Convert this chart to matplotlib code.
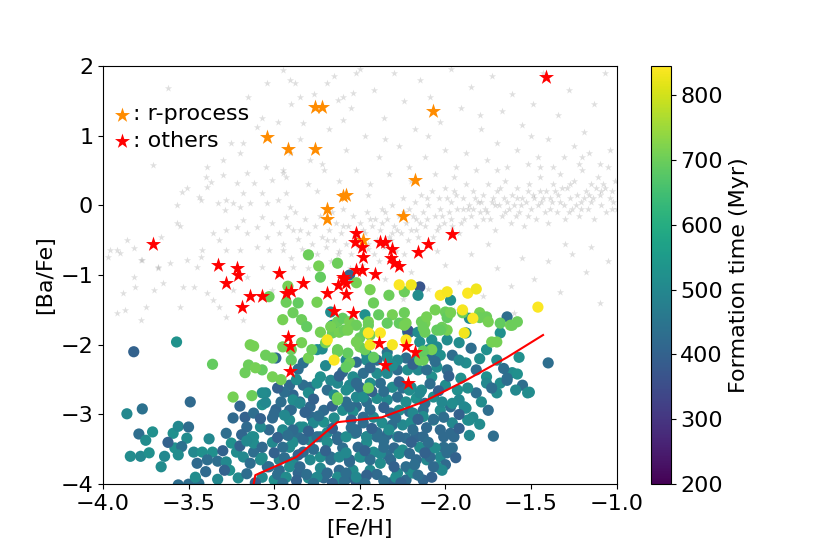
import numpy as np
import matplotlib
matplotlib.use("Agg")
import matplotlib.pyplot as plt
from matplotlib.colors import Normalize

# background sample (grey stars): ([Fe/H], [Ba/Fe])
bg_stars = [
    (-2.95, -0.55), (-2.92, -0.3), (-2.9, -0.75), (-2.88, -0.1), (-2.86, -0.48), (-2.84, -0.62), (-2.82, -0.2), (-2.8, -0.9), (-2.8, -0.4),
    (-2.78, -0.55), (-2.76, -0.3), (-2.75, -0.7), (-2.73, -0.15), (-2.72, -0.45), (-2.7, -0.6), (-2.68, -0.35), (-2.67, -0.8), (-2.65, -0.5),
    (-2.64, -0.25), (-2.62, -0.65), (-2.61, -0.4), (-2.6, -0.05), (-2.58, -0.55), (-2.57, -0.3), (-2.55, -0.7), (-2.54, -0.15), (-2.53, -0.45),
    (-2.51, -0.6), (-2.5, -0.25), (-2.49, -0.85), (-2.47, -0.4), (-2.46, -0.1), (-2.45, -0.55), (-2.43, -0.3), (-2.42, -0.7), (-2.41, -0.2),
    (-2.4, -0.5), (-2.38, -0.35), (-2.37, -0.05), (-2.36, -0.6), (-2.34, -0.2), (-2.33, -0.45), (-2.31, 0.0), (-2.3, -0.3), (-2.29, -0.65),
    (-2.27, -0.15), (-2.26, -0.4), (-2.25, 0.1), (-2.23, -0.25), (-2.22, -0.5), (-2.21, -0.05), (-2.2, -0.35), (-2.18, 0.05), (-2.17, -0.2),
    (-2.16, -0.45), (-2.14, 0.15), (-2.13, -0.1), (-2.12, -0.3), (-2.1, 0.0), (-2.09, -0.55), (-2.08, 0.2), (-2.06, -0.15), (-2.05, -0.35),
    (-2.04, 0.1), (-2.03, -0.05), (-2.01, -0.25), (-2.0, 0.25), (-1.98, -0.1), (-1.97, 0.05), (-1.96, -0.3), (-1.94, 0.15), (-1.93, -0.05),
    (-1.92, -0.4), (-1.9, 0.1), (-1.89, -0.2), (-1.88, 0.3), (-1.86, 0.0), (-1.85, -0.15), (-1.84, 0.2), (-1.82, -0.3), (-1.81, 0.05),
    (-1.8, -0.1), (-1.78, 0.15), (-1.77, -0.05), (-1.75, 0.3), (-1.74, -0.2), (-1.73, 0.05), (-1.71, -0.35), (-1.7, 0.2), (-1.69, 0.0),
    (-1.67, -0.15), (-1.66, 0.1), (-1.65, 0.35), (-1.63, -0.05), (-1.62, -0.25), (-1.61, 0.15), (-1.6, 0.0), (-1.58, 0.25), (-1.57, -0.1),
    (-1.55, 0.1), (-1.54, -0.3), (-1.53, 0.05), (-1.51, 0.3), (-1.5, -0.05), (-1.49, 0.15), (-1.47, -0.2), (-1.46, 0.0), (-1.45, 0.4),
    (-1.43, 0.1), (-1.42, -0.1), (-1.41, 0.2), (-1.4, -0.25), (-1.38, 0.05), (-1.37, 0.3), (-1.35, -0.1), (-1.34, 0.15), (-1.33, 0.45),
    (-1.31, 0.0), (-1.3, -0.2), (-1.29, 0.25), (-1.27, 0.1), (-1.26, -0.05), (-1.25, 0.35), (-1.23, 0.15), (-1.22, -0.15), (-1.21, 0.05),
    (-1.2, 0.5), (-1.18, 0.2), (-1.17, -0.05), (-1.15, 0.3), (-1.14, 0.1), (-1.13, -0.2), (-1.11, 0.4), (-1.1, 0.15), (-1.09, 0.0),
    (-1.07, 0.25), (-1.06, -0.1), (-1.05, 0.55), (-1.03, 0.2), (-1.02, 0.05), (-1.01, 0.35), (-1.0, -0.05),
    (-2.85, -0.35), (-2.74, -0.85), (-2.66, -0.1), (-2.56, -0.9), (-2.48, -0.35), (-2.39, -0.8), (-2.32, -0.5), (-2.24, -0.7), (-2.15, -0.25),
    (-2.07, -0.45), (-1.99, 0.1), (-1.91, -0.25), (-1.83, 0.1), (-1.76, -0.1), (-1.68, 0.25), (-1.59, -0.15), (-1.52, 0.2), (-1.44, 0.05),
    (-1.36, 0.2), (-1.28, -0.1), (-1.19, 0.1), (-1.12, 0.25), (-1.04, 0.1), (-2.44, -0.2), (-2.35, -0.1), (-2.28, -0.35), (-2.19, -0.15),
    (-2.11, 0.1), (-2.02, -0.15), (-1.95, 0.2), (-1.87, -0.05), (-1.79, 0.05), (-1.72, 0.1), (-1.64, 0.05), (-1.56, 0.0), (-1.48, 0.1),
    (-1.39, 0.1), (-1.32, 0.25), (-1.24, 0.0), (-1.16, 0.15), (-1.08, 0.3),
    (-2.52, -0.45), (-2.45, -0.62), (-2.37, -0.25), (-2.31, -0.4), (-2.24, -0.1), (-2.17, -0.35), (-2.11, -0.2), (-2.04, -0.3), (-1.97, -0.2),
    (-1.9, -0.05), (-1.84, -0.05), (-1.78, -0.2), (-1.71, 0.0), (-1.65, -0.1), (-1.58, 0.1), (-1.52, -0.15), (-1.45, 0.2), (-1.39, -0.05),
    (-1.33, 0.05), (-1.27, 0.3), (-1.21, -0.05), (-1.15, 0.05), (-1.09, 0.2), (-1.03, -0.05), (-2.69, -0.5), (-2.6, -0.3), (-2.63, -0.7),
    (-3.25, 0.9), (-3.15, 1.55), (-3.05, 0.55), (-2.98, 1.2), (-2.93, 0.4), (-2.88, 1.75), (-2.85, 0.95), (-2.8, 0.3), (-2.77, 1.6),
    (-2.72, 0.6), (-2.68, 1.1), (-2.65, 1.85), (-2.62, 0.35), (-2.58, 0.8), (-2.55, 1.4), (-2.52, 0.5), (-2.5, 1.95), (-2.47, 1.0),
    (-2.44, 0.3), (-2.42, 1.65), (-2.39, 0.7), (-2.36, 1.25), (-2.33, 0.45), (-2.3, 1.9), (-2.27, 0.85), (-2.24, 1.5), (-2.21, 0.55),
    (-2.18, 1.1), (-2.15, 1.8), (-2.12, 0.7), (-2.09, 1.55), (-2.06, 0.45), (-2.03, 1.2), (-2.0, 0.8), (-1.97, 1.95), (-1.94, 0.55),
    (-1.91, 1.4), (-1.88, 0.75), (-1.85, 1.7), (-1.82, 0.5), (-1.79, 1.1), (-1.76, 0.65), (-1.73, 1.85), (-1.7, 0.9), (-1.67, 1.35),
    (-1.64, 0.55), (-1.61, 1.6), (-1.58, 0.8), (-1.55, 1.15), (-1.52, 0.6), (-1.49, 1.45), (-1.46, 0.7), (-1.43, 1.9), (-1.4, 0.95),
    (-1.37, 0.55), (-1.34, 1.3), (-1.31, 0.7), (-1.28, 1.65), (-1.25, 0.85), (-1.22, 0.6), (-1.19, 1.05), (-1.16, 0.75), (-1.13, 1.45),
    (-1.1, 0.6), (-1.07, 1.9), (-1.04, 0.8), (-2.6, 1.55), (-2.35, 0.95), (-2.1, 1.0), (-1.8, 1.3), (-1.5, 1.0), (-2.9, 1.45),
    (-2.75, 0.2), (-2.45, 0.15), (-2.2, 0.35), (-1.95, 0.4), (-1.7, 0.5), (-1.45, 0.55), (-1.2, 0.7),
    (-2.35, -1.05), (-2.2, -0.95), (-2.1, -1.2), (-2.0, -0.85), (-1.92, -1.1), (-1.85, -0.7), (-1.78, -1.3), (-1.7, -0.9), (-1.62, -1.15),
    (-1.55, -0.75), (-1.48, -1.05), (-1.4, -0.8), (-1.33, -1.25), (-1.26, -0.7), (-1.18, -0.95), (-1.1, -1.4), (-1.05, -0.8), (-1.95, -1.5),
    (-1.6, -1.55), (-2.25, -1.35), (-1.3, -0.55), (-1.15, -0.6), (-1.75, -0.55), (-2.05, -0.65),
    (-3.97, -0.74), (-3.92, -0.64), (-3.86, -0.5), (-3.82, -0.61), (-3.77, -0.79), (-3.71, 0.58), (-3.66, -0.45), (-3.57, -0.25), (-3.55, -0.3),
    (-3.57, 0.0), (-3.54, 0.19), (-3.51, 0.25), (-3.43, 0.08), (-3.4, 0.41), (-3.37, 0.33), (-3.33, 0.03), (-3.29, -0.07), (-3.24, 0.03),
    (-3.92, -1.54), (-3.87, -1.5), (-3.88, -1.26), (-3.82, -1.03), (-3.81, -1.17), (-3.75, -1.46), (-3.78, -1.64), (-3.7, -1.21), (-3.65, -1.11),
    (-3.61, -0.83), (-3.68, -0.9), (-3.55, -1.46), (-3.53, -1.17), (-3.51, -0.78), (-3.47, -1.17), (-3.45, -0.88), (-3.43, -0.74), (-3.36, -1.36),
    (-3.32, -1.46), (-3.39, -1.26), (-3.24, -1.21), (-3.18, -1.64), (-3.28, -1.6), (-3.36, -0.4), (-3.32, -0.5), (-3.28, -0.35), (-3.22, -0.31),
    (-3.18, -0.21), (-3.16, -0.4), (-3.1, -0.31), (-3.07, -0.17), (-3.04, -0.45), (-3.01, -0.25), (-2.97, -0.4), (-2.93, -0.17), (-2.89, -0.35),
    (-3.1, -0.6), (-3.03, -0.64), (-2.95, -0.64), (-3.2, -0.64), (-3.28, -0.64), (-3.42, -0.64), (-3.07, -0.88), (-3.16, -1.03), (-2.89, -0.88),
    (-3.01, -1.21), (-3.18, 0.18), (-3.12, 0.32), (-3.07, 0.18), (-3.01, 0.36), (-2.95, 0.46), (-3.16, 0.46), (-3.22, 0.32), (-3.3, 0.44),
    (-3.39, 0.26), (-3.44, 0.12), (-3.04, 0.03), (-2.98, 0.08), (-2.93, 0.18), (-2.91, -0.02), (-3.2, -0.02), (-3.28, 0.08), (-3.14, 0.03),
    (-3.62, 1.68), (-3.39, 0.55), (-3.3, 0.65), (-3.2, 0.75), (-3.18, 0.9), (-3.1, 1.13), (-3.07, 1.25), (-3.04, 1.75), (-2.95, 1.94),
    (-2.91, 1.8), (-2.85, 1.56), (-2.83, 1.18), (-2.69, 1.75), (-2.63, 1.51), (-2.6, 1.22), (-2.54, 1.61), (-2.52, 1.9), (-2.91, 0.75),
    (-2.79, 0.65), (-2.71, 0.51), (-2.95, 0.51), (-3.9, -0.68), (-3.78, -0.78), (-3.96, -0.64), (-3.68, -0.88),
]

# simulated stars coloured by formation time: ([Fe/H], [Ba/Fe], t in Myr)
teal_blue = [
    (-3.82, -2.10, 400), (-3.57, -1.96, 530), (-3.49, -2.82, 420), (-3.86, -2.99, 500), (-3.77, -2.92, 440), (-3.79, -3.28, 430),
    (-3.75, -3.37, 510), (-3.71, -3.25, 520), (-3.84, -3.60, 510), (-3.78, -3.60, 500), (-3.73, -3.55, 520), (-3.66, -3.75, 510),
    (-3.59, -3.27, 520), (-3.56, -3.17, 500), (-3.50, -3.18, 430), (-3.51, -3.34, 510), (-3.58, -3.48, 520), (-3.54, -3.46, 440),
    (-3.56, -3.58, 510), (-3.47, -3.54, 500), (-3.42, -3.54, 520), (-3.45, -3.70, 420), (-3.40, -3.82, 420), (-3.33, -3.93, 500),
    (-3.36, -3.54, 520), (-3.33, -3.67, 430), (-3.50, -4.00, 430), (-3.44, -3.99, 440), (-3.56, -4.01, 430),
    (-3.20, -2.88, 410), (-3.24, -3.05, 420), (-3.17, -3.04, 400), (-3.16, -3.18, 420), (-3.19, -3.29, 410), (-3.13, -3.32, 510),
    (-3.25, -3.41, 520), (-3.22, -3.54, 510), (-3.28, -3.68, 500), (-3.26, -3.80, 520), (-3.21, -3.91, 510), (-3.18, -3.61, 500),
    (-3.12, -3.54, 430), (-3.07, -3.62, 510), (-3.04, -3.75, 420), (-3.07, -3.90, 500), (-3.00, -3.94, 520), (-3.12, -3.41, 510),
    (-3.07, -2.86, 520), (-3.05, -2.69, 500), (-2.99, -2.93, 410), (-3.01, -3.05, 420), (-2.95, -3.22, 500), (-2.96, -2.82, 430),
    (-2.91, -2.58, 420), (-2.89, -2.72, 410), (-2.90, -2.93, 430), (-2.85, -2.82, 420), (-2.83, -2.58, 430), (-2.79, -2.89, 410),
    (-2.78, -3.04, 420), (-2.71, -3.11, 520), (-2.73, -3.32, 510), (-2.79, -3.37, 500), (-2.86, -3.32, 430), (-2.91, -3.47, 510),
    (-2.83, -3.54, 420), (-2.89, -3.68, 500), (-2.97, -3.80, 420), (-2.86, -3.84, 410), (-2.80, -3.91, 510), (-2.73, -3.77, 500),
    (-2.67, -3.61, 430), (-2.63, -3.32, 420), (-2.60, -3.48, 430), (-2.56, -3.65, 510), (-2.62, -3.80, 420), (-2.56, -3.90, 410),
    (-2.52, -3.98, 400), (-2.63, -3.94, 500), (-2.71, -3.91, 420), (-2.79, -2.61, 430), (-2.73, -2.46, 520), (-2.67, -2.51, 500),
    (-2.60, -2.39, 420), (-2.56, -2.61, 510), (-2.52, -2.51, 500), (-2.60, -2.94, 510), (-2.52, -2.89, 420), (-2.48, -2.75, 520),
    (-2.48, -3.12, 430), (-2.46, -3.32, 500), (-2.52, -3.22, 420), (-2.49, -3.61, 510), (-2.85, -3.18, 500), (-2.91, -3.08, 510),
    (-2.83, -2.26, 440), (-2.75, -2.07, 520), (-2.67, -1.53, 510), (-2.56, -1.00, 410), (-2.66, -1.72, 520), (-2.72, -2.06, 510),
    (-2.47, -1.57, 520), (-2.22, -1.82, 520), (-2.46, -2.14, 510), (-2.34, -2.11, 450), (-2.99, -2.19, 420),
    (-2.15, -1.17, 370), (-2.16, -1.29, 510), (-1.97, -1.36, 520), (-1.86, -1.62, 510), (-1.64, -1.60, 430), (-1.68, -1.83, 520),
    (-1.40, -2.26, 430), (-1.72, -3.31, 430), (-1.75, -2.94, 430), (-1.88, -1.83, 520), (-1.92, -1.97, 510), (-1.85, -2.05, 430),
    (-1.76, -2.07, 520), (-1.70, -2.22, 510), (-1.57, -2.18, 520), (-1.61, -2.40, 510), (-1.55, -2.58, 430), (-1.51, -2.68, 510),
    (-1.64, -2.48, 430), (-1.68, -2.55, 510), (-1.76, -2.46, 520), (-1.82, -2.36, 430), (-1.88, -2.26, 510), (-1.96, -2.15, 430),
    (-2.03, -2.15, 520), (-2.09, -2.15, 430), (-1.99, -2.36, 430), (-2.05, -2.32, 510), (-2.08, -2.46, 520), (-2.00, -2.58, 510),
    (-1.93, -2.65, 520), (-1.92, -2.79, 500), (-1.88, -2.91, 510), (-1.84, -3.04, 500), (-1.87, -3.08, 520), (-1.97, -2.89, 430),
    (-2.03, -2.94, 510), (-1.96, -3.12, 500), (-1.97, -3.27, 420), (-2.03, -3.22, 420), (-2.07, -3.08, 510), (-2.13, -2.94, 430),
    (-2.11, -3.19, 420), (-2.17, -3.32, 410), (-2.15, -3.47, 510), (-2.09, -3.51, 420), (-2.03, -3.61, 500), (-2.00, -3.72, 420),
    (-2.05, -3.75, 510), (-2.11, -3.65, 500), (-2.17, -3.65, 420), (-2.21, -3.80, 510), (-2.13, -3.94, 410), (-2.23, -3.94, 420),
    (-2.28, -3.84, 500), (-2.32, -3.98, 410), (-2.38, -3.70, 510), (-2.44, -3.80, 500), (-2.48, -3.94, 420), (-2.54, -3.80, 510),
    (-2.56, -3.68, 430), (-2.42, -3.54, 510), (-2.34, -3.58, 430), (-2.30, -3.48, 420), (-2.25, -3.51, 510), (-2.23, -3.34, 430),
    (-2.28, -3.32, 500), (-2.34, -3.29, 420), (-2.40, -3.32, 430), (-2.46, -3.40, 510), (-2.51, -3.47, 420), (-2.53, -3.27, 500),
    (-2.37, -3.12, 510), (-2.31, -3.15, 430), (-2.25, -3.15, 500), (-2.20, -3.11, 510), (-2.21, -2.96, 420), (-2.27, -2.94, 510),
    (-2.32, -2.98, 430), (-2.42, -3.04, 500), (-2.48, -3.04, 420), (-2.54, -2.96, 510), (-2.58, -2.82, 430), (-2.52, -2.75, 500),
    (-2.46, -2.82, 430), (-2.40, -2.77, 510), (-2.34, -2.79, 500), (-2.28, -2.75, 430), (-2.23, -2.82, 510), (-2.17, -2.77, 520),
    (-2.12, -2.84, 430), (-2.14, -2.65, 510), (-2.20, -2.61, 500), (-2.25, -2.62, 430), (-2.31, -2.61, 510), (-2.38, -2.55, 430),
    (-2.44, -2.55, 510), (-2.50, -2.61, 420), (-2.56, -2.58, 500), (-2.54, -2.46, 510), (-2.48, -2.41, 430), (-2.40, -2.41, 510),
    (-2.34, -2.41, 500), (-2.28, -2.36, 430), (-2.22, -2.36, 510), (-2.16, -2.36, 500), (-2.11, -2.36, 430), (-2.17, -2.22, 510),
    (-2.23, -2.19, 430), (-2.28, -2.22, 500), (-2.34, -2.18, 520), (-2.40, -2.22, 430), (-2.46, -2.22, 510), (-2.52, -2.25, 420),
    (-2.58, -2.22, 500), (-2.10, -2.07, 510), (-2.15, -1.96, 520), (-2.21, -1.82, 430), (-2.22, -1.79, 370), (-2.16, -1.82, 510),
    (-2.08, -1.93, 520), (-1.99, -1.93, 510), (-1.92, -2.22, 500), (-2.05, -2.03, 510),
    (-3.07, -2.69, 510), (-3.05, -2.83, 500), (-3.00, -2.99, 420), (-2.94, -2.68, 430), (-2.89, -2.79, 510), (-2.91, -2.94, 420),
    (-2.85, -2.84, 500), (-2.80, -2.69, 510), (-2.75, -2.55, 520), (-2.69, -2.65, 430), (-2.63, -2.55, 500), (-2.58, -2.65, 510),
    (-2.52, -2.55, 420), (-2.48, -2.75, 510), (-2.56, -2.89, 430), (-2.71, -2.94, 420), (-2.77, -3.12, 500), (-2.83, -3.18, 510),
    (-2.89, -3.22, 420), (-2.95, -3.27, 510), (-3.03, -3.22, 420), (-3.08, -3.18, 500), (-3.12, -3.32, 510), (-3.07, -3.47, 420),
    (-3.01, -3.40, 500), (-2.95, -3.47, 430), (-2.89, -3.40, 510), (-2.83, -3.36, 420), (-2.75, -3.32, 430), (-2.69, -3.26, 500),
    (-2.63, -3.36, 420), (-2.58, -3.32, 510), (-2.52, -3.26, 430), (-2.46, -3.32, 500), (-2.40, -3.26, 430), (-2.33, -3.22, 510),
    (-2.27, -3.32, 420), (-3.08, -3.65, 510), (-3.03, -3.75, 430), (-2.97, -3.65, 500), (-2.91, -3.75, 510), (-2.85, -3.75, 420),
    (-2.79, -3.65, 500), (-2.73, -3.61, 510), (-2.67, -3.65, 430), (-2.62, -3.61, 500), (-2.56, -3.65, 420), (-2.50, -3.61, 510),
    (-2.44, -3.65, 430), (-2.38, -3.56, 500), (-2.32, -3.65, 420), (-2.27, -3.56, 510), (-2.23, -3.75, 430), (-2.98, -3.86, 430),
    (-2.93, -3.90, 510), (-2.81, -3.86, 430), (-2.75, -3.90, 500), (-2.69, -3.84, 420), (-2.63, -3.90, 510), (-2.58, -3.84, 430),
    (-2.52, -3.90, 500), (-2.40, -3.86, 420), (-2.29, -3.90, 510),
    (-1.52, -2.69, 510), (-1.59, -2.65, 500), (-1.58, -2.42, 520), (-1.64, -2.51, 430), (-1.70, -2.69, 510), (-1.76, -2.55, 500),
    (-1.82, -2.69, 430), (-1.86, -3.08, 510), (-1.89, -2.89, 500), (-1.95, -3.32, 420), (-1.96, -3.48, 430), (-2.01, -3.32, 420),
    (-2.01, -3.47, 430), (-2.02, -3.80, 500), (-2.07, -3.75, 420), (-2.19, -3.84, 510), (-2.09, -3.61, 420), (-2.21, -3.56, 420),
    (-2.06, -3.48, 510), (-2.13, -3.32, 420), (-2.19, -3.22, 430), (-2.07, -3.07, 430), (-2.13, -3.03, 510), (-2.19, -2.98, 500),
    (-1.96, -2.84, 510), (-2.02, -2.82, 500), (-2.07, -2.75, 510), (-2.15, -2.69, 500), (-2.21, -2.65, 510), (-1.87, -2.62, 510),
    (-1.91, -2.48, 520),
    (-2.86, -2.35, 430), (-2.70, -2.30, 500), (-2.62, -2.45, 400), (-2.44, -2.33, 420), (-2.31, -2.30, 510), (-2.19, -2.28, 400),
    (-2.06, -2.24, 430), (-1.98, -2.45, 400), (-1.80, -2.20, 510), (-1.66, -2.34, 430),
    (-2.98, -2.62, 400), (-2.87, -2.50, 510), (-2.77, -2.78, 400), (-2.65, -2.72, 510), (-2.43, -2.67, 400), (-2.36, -2.67, 430),
    (-2.27, -2.53, 400), (-2.09, -2.56, 430), (-2.04, -2.66, 400), (-1.79, -2.82, 510), (-1.73, -2.62, 430),
    (-3.12, -2.98, 430), (-3.08, -3.06, 400), (-2.94, -3.01, 500), (-2.82, -2.97, 400), (-2.74, -3.02, 430), (-2.66, -2.88, 400),
    (-2.65, -3.05, 510), (-2.55, -3.08, 400), (-2.44, -2.93, 430), (-2.36, -2.90, 400), (-2.29, -3.05, 430), (-2.16, -3.07, 400),
    (-2.01, -3.04, 430), (-1.92, -3.00, 400), (-1.80, -3.14, 510),
    (-3.28, -3.27, 430), (-3.20, -3.45, 400), (-3.16, -3.38, 500), (-2.98, -3.33, 400), (-2.92, -3.30, 430), (-2.80, -3.24, 400),
    (-2.69, -3.40, 510), (-2.66, -3.20, 400), (-2.55, -3.19, 430), (-2.43, -3.20, 400), (-2.36, -3.38, 430), (-2.20, -3.40, 400),
    (-2.10, -3.40, 430), (-1.92, -3.20, 400), (-1.86, -3.30, 500),
    (-3.30, -3.52, 400), (-3.14, -3.70, 430), (-3.00, -3.55, 400), (-2.94, -3.62, 430), (-2.86, -3.58, 400), (-2.77, -3.50, 430),
    (-2.70, -3.52, 400), (-2.58, -3.55, 500), (-2.47, -3.52, 400), (-2.36, -3.47, 430), (-2.30, -3.75, 400), (-2.18, -3.72, 430),
    (-2.12, -3.55, 400), (-1.99, -3.55, 430), (-1.94, -3.62, 400),
    (-3.16, -3.85, 430), (-3.11, -3.98, 400), (-2.95, -3.99, 430), (-2.87, -3.95, 400), (-2.77, -3.99, 430), (-2.66, -3.99, 400),
    (-2.59, -3.96, 430), (-2.46, -3.87, 400), (-2.36, -3.95, 430), (-2.26, -3.98, 400), (-2.16, -3.87, 430), (-2.08, -3.90, 400),
    (-2.47, -3.99, 430),
    (-3.62, -3.40, 400), (-3.64, -3.60, 500), (-3.39, -3.65, 430), (-3.46, -3.90, 510), (-3.29, -3.80, 400), (-3.38, -3.35, 500),
]

green = [
    (-2.80, -0.71, 700), (-2.74, -0.87, 710), (-2.63, -0.83, 700), (-2.73, -1.03, 690), (-2.52, -1.11, 710), (-3.03, -1.31, 700),
    (-2.92, -1.16, 710), (-2.93, -1.39, 700), (-2.86, -1.40, 690), (-2.75, -1.39, 710), (-2.89, -1.54, 700), (-2.95, -1.64, 710),
    (-2.84, -1.64, 700), (-2.81, -1.74, 690), (-2.73, -1.82, 710), (-2.66, -1.83, 700), (-2.62, -1.82, 710), (-2.63, -1.67, 700),
    (-2.60, -1.62, 690), (-2.56, -1.67, 710), (-2.52, -1.72, 700), (-2.45, -1.67, 710), (-2.42, -1.40, 700), (-2.39, -1.57, 690),
    (-2.31, -1.57, 710), (-2.24, -1.69, 700), (-2.44, -1.86, 710), (-2.50, -1.90, 700), (-2.47, -1.82, 690), (-2.84, -1.97, 710),
    (-2.90, -2.07, 700), (-2.95, -2.03, 710), (-3.05, -2.15, 700), (-2.90, -2.22, 690), (-2.80, -2.19, 710), (-2.78, -2.07, 700),
    (-2.70, -1.97, 710), (-2.63, -2.07, 700), (-2.57, -2.12, 690), (-2.50, -2.03, 710), (-2.56, -2.26, 700), (-3.12, -2.02, 710),
    (-3.01, -2.19, 700), (-3.07, -2.36, 690), (-3.01, -2.46, 710), (-3.15, -2.29, 700), (-3.11, -2.33, 710), (-3.17, -2.40, 700),
    (-3.36, -2.28, 690), (-3.24, -2.75, 710), (-3.13, -2.73, 700), (-2.96, -2.50, 710), (-2.63, -2.10, 700), (-2.58, -2.32, 690),
    (-2.63, -2.76, 710), (-2.59, -1.79, 700), (-2.67, -1.74, 710),
    (-2.24, -1.24, 700), (-2.06, -1.50, 710), (-2.00, -1.53, 700), (-1.99, -1.61, 690), (-1.97, -1.54, 710), (-1.90, -1.54, 700),
    (-1.80, -1.54, 710), (-1.76, -1.60, 700), (-1.68, -1.69, 690), (-1.62, -1.72, 710), (-1.58, -1.67, 700), (-2.12, -1.69, 710),
    (-2.13, -1.76, 700), (-2.05, -1.79, 690), (-1.99, -1.79, 710), (-2.02, -1.75, 700), (-2.23, -1.69, 710), (-2.24, -1.54, 700),
    (-2.27, -1.69, 690), (-2.08, -2.07, 710), (-2.13, -2.22, 700), (-1.70, -1.96, 710), (-1.80, -1.61, 700),
    (-2.44, -1.21, 710), (-2.33, -1.29, 700), (-2.34, -1.69, 690), (-2.24, -1.72, 710), (-2.45, -1.72, 700), (-2.52, -1.96, 710),
    (-2.47, -2.07, 700), (-2.42, -2.18, 690), (-2.57, -1.79, 710), (-2.14, -1.67, 700), (-2.11, -1.60, 710), (-2.12, -1.82, 700),
    (-2.03, -1.79, 690), (-1.75, -1.67, 710), (-1.61, -1.72, 700), (-2.45, -2.62, 710), (-2.15, -2.22, 700), (-2.13, -2.09, 690),
    (-1.73, -1.96, 710), (-2.63, -2.79, 700), (-3.14, -2.00, 710),
]

yellow = [
    (-2.27, -1.14, 840), (-2.20, -1.14, 830), (-2.03, -1.29, 840), (-1.99, -1.24, 835), (-1.87, -1.26, 840), (-1.82, -1.20, 830),
    (-1.46, -1.46, 840), (-1.90, -1.50, 835), (-1.84, -1.62, 840), (-1.89, -1.83, 830), (-2.23, -1.93, 840), (-2.69, -1.93, 835),
    (-2.45, -1.83, 840), (-2.44, -2.00, 830), (-2.38, -1.83, 840), (-2.31, -2.00, 835), (-2.65, -2.22, 840),
]

# observed stars
r_process_feh = [-2.76, -2.72, -3.04, -2.92, -2.76, -2.07, -2.18, -2.25, -2.60, -2.58, -2.69, -2.69, -2.48]
r_process_bafe = [1.41, 1.41, 0.98, 0.81, 0.81, 1.35, 0.36, -0.15, 0.13, 0.15, -0.05, -0.20, -0.50]

others_feh = [-1.41, -3.71, -3.33, -3.22, -3.21, -2.97, -2.52, -2.53, -2.49, -2.48, -2.52, -2.49, -2.60, -1.96, -2.10,
              -2.16, -2.38, -2.35, -2.31, -2.32, -2.30, -2.27, -2.41, -3.28, -2.83, -3.14, -3.07, -3.19, -2.93, -2.90,
              -2.92, -2.91, -2.69, -2.63, -2.59, -2.58, -2.58, -2.65, -2.54, -2.39, -2.23, -2.18, -2.35, -2.22, -2.91]
others_bafe = [1.84, -0.55, -0.86, -0.90, -1.00, -0.97, -0.40, -0.53, -0.60, -0.74, -0.93, -0.93, -1.03, -0.41, -0.55,
               -0.67, -0.53, -0.53, -0.63, -0.75, -0.83, -0.87, -0.98, -1.11, -1.11, -1.30, -1.30, -1.46, -1.26, -1.23,
               -1.89, -2.38, -1.26, -1.14, -1.06, -1.11, -1.27, -1.52, -1.54, -1.97, -2.02, -2.10, -2.29, -2.55, -2.02]

# median relation (red line)
line_feh = [-3.12, -3.11, -2.87, -2.63, -2.37, -2.13, -1.88, -1.64, -1.43]
line_bafe = [-4.0, -3.87, -3.61, -3.11, -3.04, -2.82, -2.51, -2.18, -1.86]

fig = plt.figure(figsize=(8.3, 5.54), dpi=100)
ax = fig.add_axes([0.124, 0.126, 0.619, 0.755])
cax = fig.add_axes([0.784, 0.126, 0.024, 0.755])

norm = Normalize(vmin=200, vmax=845)

bg = np.array(bg_stars)
ax.scatter(bg[:, 0], bg[:, 1], marker='*', s=30, color='gray', alpha=0.25, linewidths=0)

for grp in [teal_blue, green, yellow]:
    a = np.array(grp)
    sc = ax.scatter(a[:, 0], a[:, 1], c=a[:, 2], cmap='viridis', norm=norm, s=65, linewidths=0)

ax.plot(line_feh, line_bafe, color='red', lw=1.5)

ax.scatter(r_process_feh, r_process_bafe, marker='*', s=130, color='darkorange', linewidths=0, label=': r-process')
ax.scatter(others_feh, others_bafe, marker='*', s=130, color='red', linewidths=0, label=': others')

ax.set_xlim(-4, -1)
ax.set_ylim(-4, 2)
ax.set_xticks([-4.0, -3.5, -3.0, -2.5, -2.0, -1.5, -1.0])
ax.set_yticks([-4, -3, -2, -1, 0, 1, 2])
ax.tick_params(labelsize=16)
ax.set_xlabel('[Fe/H]', fontsize=16)
ax.set_ylabel('[Ba/Fe]', fontsize=16)
ax.legend(loc='upper left', bbox_to_anchor=(-0.015, 0.945), frameon=False, fontsize=16,
          scatterpoints=1, handletextpad=0.0, handlelength=1.0, labelspacing=0.3, borderpad=0.2)

cb = fig.colorbar(sc, cax=cax)
cb.set_label('Formation time (Myr)', fontsize=16)
cb.ax.tick_params(labelsize=16)
cb.set_ticks([200, 300, 400, 500, 600, 700, 800])

fig.savefig('out.png', dpi=100)
